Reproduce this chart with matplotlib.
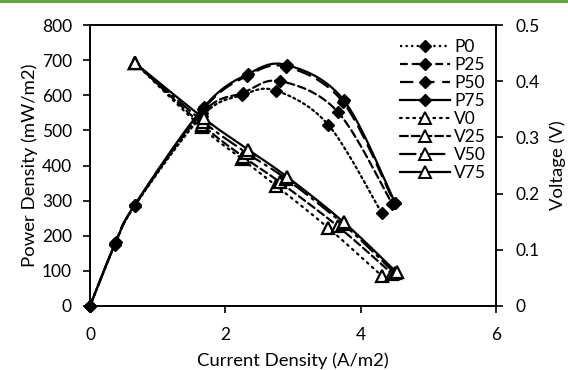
import numpy as np
import matplotlib.pyplot as plt
from matplotlib.lines import Line2D

plt.rcParams['font.family'] = ['Lato', 'DejaVu Sans']

# power density curves (mW/m2) vs current density (A/m2)
x_p0 = [0, 0.37, 0.66, 1.65, 2.24, 2.75, 3.52, 4.31]
p0 = [0, 175, 285, 540, 600, 613, 516, 265]
x_p25 = [0, 0.37, 0.66, 1.66, 2.26, 2.81, 3.66, 4.47]
p25 = [0, 177, 286, 550, 607, 640, 553, 289]
x_p50 = [0, 0.37, 0.66, 1.67, 2.32, 2.90, 3.74, 4.50]
p50 = [0, 178, 287, 560, 655, 681, 580, 292]
x_p75 = [0, 0.38, 0.66, 1.68, 2.34, 2.91, 3.75, 4.51]
p75 = [0, 182, 288, 566, 661, 686, 586, 293]

# voltage curves (V)
x_v0 = [0.66, 1.65, 2.24, 2.75, 3.52, 4.31]
v0 = [0.433, 0.318, 0.262, 0.214, 0.139, 0.054]
x_v25 = [0.66, 1.66, 2.26, 2.81, 3.66, 4.47]
v25 = [0.433, 0.322, 0.266, 0.220, 0.142, 0.057]
x_v50 = [0.66, 1.67, 2.32, 2.90, 3.74, 4.50]
v50 = [0.433, 0.328, 0.272, 0.226, 0.146, 0.059]
x_v75 = [0.66, 1.68, 2.34, 2.91, 3.75, 4.53]
v75 = [0.433, 0.334, 0.278, 0.230, 0.149, 0.060]


def smooth(x, y, n=20):
    # excel-like smoothed line through the points
    pts = np.column_stack([x, y]).astype(float)
    out = [pts[0]]
    for i in range(len(pts) - 1):
        p0 = pts[i - 1] if i > 0 else pts[i]
        p1 = pts[i]
        p2 = pts[i + 1]
        p3 = pts[i + 2] if i + 2 < len(pts) else pts[i + 1]
        c1 = p1 + (p2 - p0) / 6
        c2 = p2 - (p3 - p1) / 6
        t = np.linspace(0, 1, n)[1:, None]
        seg = (1 - t) ** 3 * p1 + 3 * (1 - t) ** 2 * t * c1 + 3 * (1 - t) * t ** 2 * c2 + t ** 3 * p2
        out.extend(seg)
    out = np.array(out)
    return out[:, 0], out[:, 1]


fig = plt.figure(figsize=(5.68, 3.70), dpi=100)
ax = fig.add_axes([90 / 568, 64 / 370, 406 / 568, 281 / 370])
ax2 = ax.twinx()

lw = 1.6
p_styles = [(x_p0, p0, 'P0', (0, (1, 1.5))),
            (x_p25, p25, 'P25', (0, (3.5, 1.8))),
            (x_p50, p50, 'P50', (0, (6, 3.5))),
            (x_p75, p75, 'P75', '-')]
v_styles = [(x_v0, v0, 'V0', (0, (0.8, 2.2))),
            (x_v25, v25, 'V25', (0, (3.5, 1.8))),
            (x_v50, v50, 'V50', (0, (7, 2.5, 1, 2.5))),
            (x_v75, v75, 'V75', '-')]

handles = []
for xs, ys, name, ls in p_styles:
    sx, sy = smooth(xs, ys)
    ax.plot(sx, sy, color='black', lw=lw, ls=ls, dash_capstyle='round')
    ax.plot(xs, ys, 'D', color='black', ms=6.5, clip_on=False)
    handles.append(Line2D([], [], color='black', lw=lw, ls=ls, marker='D', ms=6.5, label=name))
for xs, ys, name, ls in v_styles:
    sx, sy = smooth(xs, ys)
    ax2.plot(sx, sy, color='black', lw=lw, ls=ls, dash_capstyle='round')
    ax2.plot(xs, ys, '^', mfc='white', mec='black', mew=1.6, ms=9)
    handles.append(Line2D([], [], color='black', lw=lw, ls=ls, dash_capstyle='round',
                          marker='^', mfc='white', mec='black', mew=1.4, ms=8, label=name))

ax.set_xlim(0, 6)
ax.set_ylim(0, 800)
ax2.set_ylim(0, 0.5)
ax.set_xticks([0, 2, 4, 6])
ax.set_yticks(range(0, 801, 100))
ax2.set_yticks([0, 0.1, 0.2, 0.3, 0.4, 0.5])
ax2.set_yticklabels(['0', '0.1', '0.2', '0.3', '0.4', '0.5'])

ax.tick_params(axis='x', direction='out', length=5, width=1.2, labelsize=12.5, pad=10)
ax.tick_params(axis='y', direction='out', length=5, width=1.2, labelsize=12.5, pad=8)
ax2.tick_params(axis='y', direction='out', length=5, width=1.2, labelsize=12.5, pad=9)
for a in (ax, ax2):
    for s in a.spines.values():
        s.set_linewidth(1.2)

ax.set_xlabel('Current Density (A/m2)', fontsize=13.3, labelpad=7)
ax.set_ylabel('Power Density (mW/m2)', fontsize=13.3, labelpad=3)
ax2.set_ylabel('Voltage (V)', fontsize=13.3, labelpad=7)

ax2.legend(handles=handles, loc='upper left', bbox_to_anchor=(391 / 568, 1 - 30 / 370),
           bbox_transform=fig.transFigure, frameon=False, fontsize=12.5,
           handlelength=2.9, handletextpad=0.25, labelspacing=0.12, borderpad=0)

# thin green rule across the top edge
fig.add_artist(Line2D([0, 1], [0.997, 0.997], color='#5aa02c', lw=2, transform=fig.transFigure))

fig.savefig('out.png', dpi=100)
